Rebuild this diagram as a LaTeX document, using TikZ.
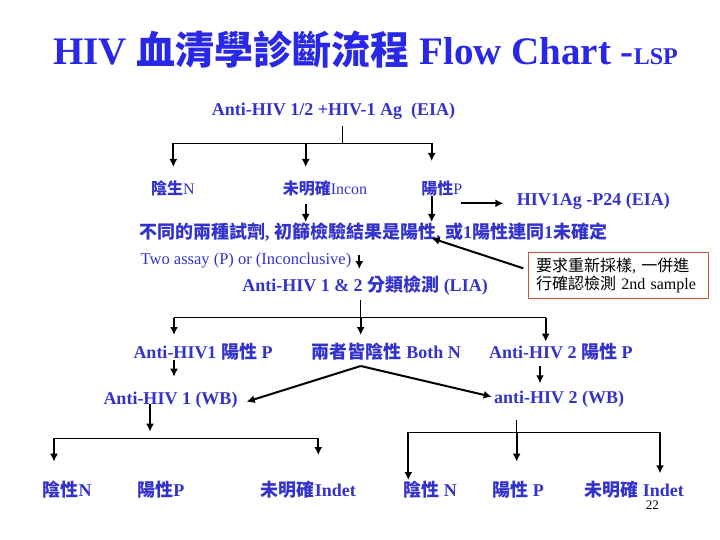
\documentclass[tikz,border=0pt]{standalone}
\usepackage{fontspec}
\setmainfont{Liberation Serif}
\newfontfamily\cjk{Noto Sans CJK TC}
\usetikzlibrary{arrows.meta}
\definecolor{txtblue}{RGB}{51,51,204}
\definecolor{ttlblue}{RGB}{40,40,230}
\definecolor{boxred}{RGB}{196,89,62}
\newcommand{\zh}[1]{{\cjk #1}}

\begin{document}
\begin{tikzpicture}[x=1pt,y=-1pt,>={Latex[length=8pt,width=8pt]},
  lbl/.style={text=txtblue,inner sep=0pt,font=\bfseries\fontsize{18}{20}\selectfont},
  sml/.style={text=txtblue,inner sep=0pt,font=\fontsize{16}{18}\selectfont},
  arr/.style={->,line width=2pt},
  bar/.style={line width=1.3pt},
  stem/.style={line width=0.9pt}]
\useasboundingbox (0,0) rectangle (720,540);
% title
\node[anchor=base west,inner sep=0pt,text=ttlblue,font=\bfseries\fontsize{39}{40}\selectfont] (title) at (53,65)
  {HIV \zh{血清學診斷流程} Flow Chart -{\fontsize{24}{26}\selectfont LSP}};
% first screening
\node[lbl] (eia) at (333.5,111.7) {Anti-HIV 1/2 +HIV-1 Ag\ \ (EIA)};
\node[sml] (neg1) at (173,188) {\zh{\bfseries 陰生}N};
\node[sml] (inc1) at (325,188) {\zh{\bfseries 未明確}Incon};
\node[sml] (pos1) at (441.7,188) {\zh{\bfseries 陽性}P};
\node[lbl] (p24) at (593.3,201.7) {HIV1Ag -P24 (EIA)};
\node[lbl] (two) at (373,231.7) {\zh{不同的兩種試劑}, \zh{初篩檢驗結果是陽性}, \zh{或}1\zh{陽性連同}1\zh{未確定}};
\node[draw=boxred,line width=1pt,minimum width=180pt,minimum height=45.6pt,inner xsep=7.7pt,
  text width=164.6pt,align=left,font=\fontsize{16}{17.7}\selectfont] (resample) at (618.3,275.5)
  {\zh{要求重新採樣}, \zh{一併進}\\\zh{行確認檢測} 2nd sample};
\node[sml,font=\fontsize{16.5}{18}\selectfont] (assay) at (246,261) {Two assay (P) or (Inconclusive)};
\node[lbl] (lia) at (365,285.7) {Anti-HIV 1 \& 2 \zh{分類檢測} (LIA)};
% LIA results
\node[lbl] (hiv1p) at (203,351.7) {Anti-HIV1 \zh{陽性} P};
\node[lbl] (bothn) at (386.3,351.7) {\zh{兩者皆陰性} Both N};
\node[lbl] (hiv2p) at (560.8,351.7) {Anti-HIV 2 \zh{陽性} P};
\node[lbl] (wb1) at (170.5,400) {Anti-HIV 1 (WB)};
\node[lbl] (wb2) at (559,399.3) {anti-HIV 2 (WB)};
% western blot results
\node[lbl] (neg2) at (67,490) {\zh{陰性}N};
\node[lbl] (pos2) at (160.8,490) {\zh{陽性}P};
\node[lbl] (ind2) at (308.3,490) {\zh{未明確}Indet};
\node[lbl] (neg3) at (430,490) {\zh{陰性} N};
\node[lbl] (pos3) at (518,490) {\zh{陽性} P};
\node[lbl] (ind3) at (634.2,490) {\zh{未明確} Indet};
\node[inner sep=0pt,font=\fontsize{13}{14}\selectfont] (page) at (652.3,505) {22};
% connector points
\coordinate (a0) at (342.3,126);   \coordinate (a1) at (342.3,143.3);
\coordinate (aL) at (173.3,143.3); \coordinate (aM) at (305.7,143.3); \coordinate (aR) at (431.7,143.3);
\coordinate (aLe) at (173.3,167);  \coordinate (aMe) at (305.7,167);  \coordinate (aRe) at (431.7,161);
\coordinate (incs) at (305.7,204); \coordinate (ince) at (305.7,222);
\coordinate (poss) at (431.7,196); \coordinate (pose) at (431.7,222);
\coordinate (p24s) at (460.7,203.3); \coordinate (p24e) at (503.3,203.3);
\coordinate (bxs) at (523.3,268.3); \coordinate (bxe) at (431.7,238.3);
\coordinate (asys) at (359.3,255); \coordinate (asye) at (359.3,269);
\coordinate (b0) at (360.7,300);   \coordinate (b1) at (360.7,317.7);
\coordinate (bL) at (174,317.7);   \coordinate (bR) at (545.7,317.7);
\coordinate (bLe) at (174,335);    \coordinate (bMe) at (360.7,335);  \coordinate (bRe) at (545.7,341.7);
\coordinate (w1s) at (174,360);    \coordinate (w1e) at (174,376.7);
\coordinate (w2s) at (540,366);    \coordinate (w2e) at (540,383.3);
\coordinate (bn) at (360.7,366);   \coordinate (bnL) at (246.7,401.7); \coordinate (bnR) at (491.7,396.7);
\coordinate (c0) at (150,404);     \coordinate (c0e) at (150,431.7);
\coordinate (cL) at (54,438.3);    \coordinate (cR) at (318.3,438.3);
\coordinate (cLe) at (54,461.7);   \coordinate (cRe) at (318.3,455);
\coordinate (d0) at (516.7,420);   \coordinate (d1) at (516.7,432.3);  \coordinate (dMe) at (516.7,461.7);
\coordinate (dL) at (408.3,432.3); \coordinate (dR) at (660,432.3);
\coordinate (dLe) at (408.3,480);  \coordinate (dRe) at (660,473.3);
% connectors
\draw[stem] (a0) -- (a1);
\draw[bar] (aL) -- (aR);
\draw[arr] (aL) -- (aLe);
\draw[arr] (aM) -- (aMe);
\draw[arr] (aR) -- (aRe);
\draw[arr] (incs) -- (ince);
\draw[arr] (poss) -- (pose);
\draw[arr] (p24s) -- (p24e);
\draw[arr] (bxs) -- (bxe);
\draw[arr,line width=1.8pt] (asys) -- (asye);
\draw[stem] (b0) -- (b1);
\draw[bar] (bL) -- (bR);
\draw[arr] (bL) -- (bLe);
\draw[arr] (b1) -- (bMe);
\draw[arr] (bR) -- (bRe);
\draw[arr] (w1s) -- (w1e);
\draw[arr] (w2s) -- (w2e);
\draw[arr] (bn) -- (bnL);
\draw[arr] (bn) -- (bnR);
\draw[arr] (c0) -- (c0e);
\draw[bar] (cL) -- (cR);
\draw[arr] (cL) -- (cLe);
\draw[arr] (cR) -- (cRe);
\draw[stem] (d0) -- (d1);
\draw[bar] (dL) -- (dR);
\draw[arr] (d1) -- (dMe);
\draw[arr] (dL) -- (dLe);
\draw[arr] (dR) -- (dRe);
\end{tikzpicture}
\end{document}
